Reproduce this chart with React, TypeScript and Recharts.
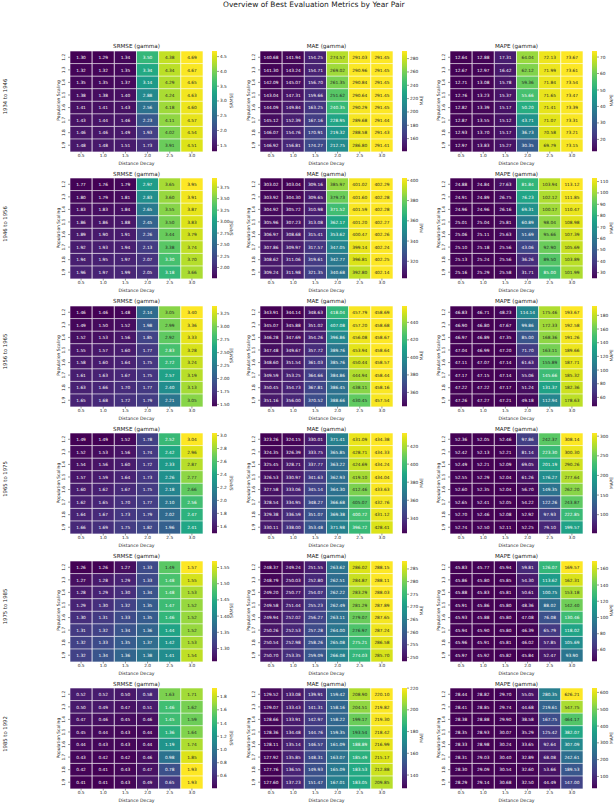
import React from 'react';
import { BarChart, Bar, XAxis, YAxis, Cell, LabelList } from 'recharts';

const FONT = 'DejaVu Sans, sans-serif';

const mainTitle = 'Overview of Best Evaluation Metrics by Year Pair';
const yearPairs = ['1934 to 1946', '1946 to 1956', '1956 to 1965', '1965 to 1975', '1975 to 1985', '1985 to 1992'];
const popScaling = ['1.2', '1.3', '1.4', '1.5', '1.6', '1.7', '1.8', '1.9'];
const distDecay = ['0.5', '1.0', '1.5', '2.0', '2.5', '3.0'];
const metricTitles = ['SRMSE (gamma)', 'MAE (gamma)', 'MAPE (gamma)'];
const metricLabels = ['SRMSE', 'MAE', 'MAPE'];

// ---- 1934 to 1946 ----
const srmse1934 = [
  [1.30, 1.29, 1.34, 3.50, 4.38, 4.69],
  [1.32, 1.32, 1.35, 3.34, 4.34, 4.67],
  [1.35, 1.35, 1.37, 3.14, 4.29, 4.65],
  [1.38, 1.38, 1.40, 2.88, 4.24, 4.63],
  [1.41, 1.41, 1.43, 2.56, 4.18, 4.60],
  [1.43, 1.44, 1.46, 2.23, 4.11, 4.57],
  [1.46, 1.46, 1.49, 1.93, 4.02, 4.54],
  [1.48, 1.48, 1.51, 1.73, 3.91, 4.51],
];
const mae1934 = [
  [140.68, 141.94, 154.25, 274.57, 291.03, 291.45],
  [141.30, 143.24, 154.71, 269.02, 290.96, 291.45],
  [142.09, 145.07, 156.70, 261.35, 290.84, 291.45],
  [143.04, 147.31, 159.66, 251.62, 290.64, 291.45],
  [144.09, 149.84, 163.25, 240.35, 290.29, 291.45],
  [145.12, 152.39, 167.16, 228.95, 289.68, 291.44],
  [146.07, 154.76, 170.91, 219.32, 288.58, 291.43],
  [146.92, 156.81, 174.27, 212.75, 286.80, 291.41],
];
const mape1934 = [
  [12.64, 12.88, 17.31, 64.04, 72.13, 73.67],
  [12.67, 12.97, 16.42, 62.12, 71.99, 73.61],
  [12.71, 13.08, 15.78, 59.36, 71.84, 73.54],
  [12.76, 13.23, 15.37, 55.66, 71.65, 73.47],
  [12.82, 13.39, 15.17, 50.20, 71.41, 73.39],
  [12.87, 13.55, 15.12, 43.71, 71.07, 73.31],
  [12.93, 13.70, 15.17, 36.73, 70.58, 73.21],
  [12.97, 13.83, 15.27, 30.35, 69.79, 73.15],
];
// ---- 1946 to 1956 ----
const srmse1946 = [
  [1.77, 1.76, 1.79, 2.97, 3.65, 3.95],
  [1.80, 1.79, 1.81, 2.83, 3.60, 3.91],
  [1.83, 1.83, 1.84, 2.65, 3.55, 3.87],
  [1.86, 1.86, 1.88, 2.45, 3.50, 3.83],
  [1.89, 1.90, 1.91, 2.26, 3.44, 3.79],
  [1.92, 1.93, 1.94, 2.13, 3.38, 3.74],
  [1.94, 1.95, 1.97, 2.07, 3.30, 3.70],
  [1.96, 1.97, 1.99, 2.05, 3.18, 3.66],
];
const mae1946 = [
  [303.02, 303.04, 309.16, 385.97, 401.02, 402.29],
  [303.92, 304.30, 309.65, 379.73, 401.60, 402.28],
  [304.92, 305.72, 310.98, 371.52, 401.59, 402.28],
  [305.96, 307.23, 313.08, 362.17, 401.20, 402.27],
  [306.97, 308.68, 315.41, 353.62, 400.47, 402.26],
  [307.86, 309.97, 317.57, 347.05, 399.14, 402.24],
  [308.62, 311.06, 319.61, 342.77, 396.81, 402.25],
  [309.24, 311.98, 321.35, 340.68, 392.80, 402.14],
];
const mape1946 = [
  [24.88, 24.84, 27.63, 81.84, 103.94, 113.12],
  [24.91, 24.89, 26.75, 76.23, 102.12, 111.85],
  [24.96, 24.96, 26.16, 69.31, 100.17, 110.47],
  [25.01, 25.04, 25.81, 60.89, 98.04, 108.98],
  [25.06, 25.11, 25.63, 51.69, 95.66, 107.39],
  [25.10, 25.18, 25.56, 43.06, 92.90, 105.69],
  [25.13, 25.24, 25.56, 36.26, 89.50, 103.89],
  [25.16, 25.29, 25.58, 31.71, 85.00, 101.99],
];
// ---- 1956 to 1965 ----
const srmse1956 = [
  [1.46, 1.46, 1.48, 2.14, 3.05, 3.40],
  [1.49, 1.50, 1.52, 1.98, 2.99, 3.36],
  [1.52, 1.53, 1.56, 1.85, 2.92, 3.33],
  [1.55, 1.57, 1.60, 1.77, 2.83, 3.28],
  [1.58, 1.60, 1.64, 1.75, 2.72, 3.24],
  [1.61, 1.63, 1.67, 1.75, 2.57, 3.19],
  [1.63, 1.66, 1.70, 1.77, 2.40, 3.13],
  [1.65, 1.68, 1.72, 1.79, 2.21, 3.05],
];
const mae1956 = [
  [343.91, 344.14, 348.63, 418.04, 457.79, 458.69],
  [345.07, 345.88, 351.02, 407.08, 457.20, 458.68],
  [346.28, 347.69, 354.26, 396.86, 456.08, 458.67],
  [347.48, 349.67, 357.72, 389.76, 453.94, 458.64],
  [348.60, 351.54, 361.03, 385.76, 450.44, 458.57],
  [349.59, 353.25, 364.66, 384.86, 444.94, 458.44],
  [350.45, 354.73, 367.81, 386.45, 438.11, 458.16],
  [351.16, 356.00, 370.52, 388.66, 430.45, 457.54],
];
const mape1956 = [
  [46.83, 46.71, 48.23, 114.14, 175.46, 193.67],
  [46.90, 46.80, 47.67, 99.86, 172.33, 192.58],
  [46.97, 46.89, 47.35, 85.00, 168.36, 191.26],
  [47.04, 46.99, 47.20, 71.70, 163.11, 189.66],
  [47.11, 47.07, 47.14, 61.63, 155.89, 187.71],
  [47.17, 47.15, 47.14, 55.06, 145.66, 185.32],
  [47.22, 47.22, 47.17, 51.24, 131.37, 182.36],
  [47.26, 47.27, 47.21, 49.18, 112.94, 178.63],
];
// ---- 1965 to 1975 ----
const srmse1965 = [
  [1.49, 1.49, 1.52, 1.78, 2.52, 3.04],
  [1.52, 1.53, 1.56, 1.74, 2.42, 2.96],
  [1.54, 1.56, 1.60, 1.72, 2.33, 2.87],
  [1.57, 1.59, 1.64, 1.73, 2.26, 2.77],
  [1.60, 1.62, 1.67, 1.75, 2.18, 2.66],
  [1.62, 1.65, 1.70, 1.77, 2.10, 2.56],
  [1.64, 1.67, 1.73, 1.79, 2.02, 2.47],
  [1.66, 1.69, 1.75, 1.82, 1.96, 2.41],
];
const mae1965 = [
  [323.26, 324.15, 330.01, 371.41, 431.09, 434.38],
  [324.35, 326.39, 333.75, 365.85, 428.71, 434.33],
  [325.45, 328.71, 337.77, 363.22, 424.69, 434.24],
  [326.53, 330.97, 341.63, 362.93, 419.10, 434.04],
  [327.58, 333.06, 345.14, 364.30, 412.46, 433.63],
  [328.54, 334.95, 348.27, 366.68, 405.07, 432.76],
  [329.38, 336.59, 351.07, 369.38, 400.72, 431.12],
  [330.11, 338.00, 353.48, 371.98, 396.72, 428.41],
];
const mape1965 = [
  [52.36, 52.05, 52.46, 97.86, 242.37, 308.14],
  [52.42, 52.13, 52.21, 81.14, 223.30, 300.30],
  [52.49, 52.21, 52.09, 69.05, 201.19, 290.26],
  [52.55, 52.29, 52.04, 61.26, 176.27, 277.64],
  [52.60, 52.35, 52.04, 56.70, 149.35, 262.20],
  [52.65, 52.41, 52.05, 54.22, 122.26, 243.87],
  [52.70, 52.46, 52.08, 52.92, 97.93, 222.85],
  [52.74, 52.50, 52.11, 52.25, 79.10, 199.57],
];
// ---- 1975 to 1985 ----
const srmse1975 = [
  [1.26, 1.26, 1.27, 1.33, 1.49, 1.57],
  [1.27, 1.28, 1.29, 1.33, 1.48, 1.55],
  [1.28, 1.29, 1.30, 1.34, 1.48, 1.53],
  [1.29, 1.30, 1.32, 1.35, 1.47, 1.52],
  [1.30, 1.31, 1.33, 1.35, 1.46, 1.52],
  [1.31, 1.32, 1.34, 1.36, 1.44, 1.52],
  [1.32, 1.33, 1.35, 1.37, 1.42, 1.53],
  [1.32, 1.34, 1.36, 1.38, 1.41, 1.54],
];
const mae1975 = [
  [248.37, 249.24, 251.55, 263.62, 286.02, 288.15],
  [248.79, 250.03, 252.80, 262.51, 284.87, 288.11],
  [249.20, 250.77, 254.07, 262.22, 283.29, 288.03],
  [249.58, 251.44, 255.23, 262.49, 281.29, 287.89],
  [249.94, 252.02, 256.27, 263.11, 279.07, 287.65],
  [250.26, 252.53, 257.28, 264.00, 276.97, 287.24],
  [250.54, 252.98, 258.26, 265.08, 275.21, 286.58],
  [250.70, 253.35, 259.09, 266.08, 274.03, 285.70],
];
const mape1975 = [
  [45.83, 45.77, 45.94, 59.81, 126.07, 169.57],
  [45.86, 45.80, 45.85, 54.30, 113.62, 162.31],
  [45.88, 45.83, 45.81, 50.61, 100.75, 153.18],
  [45.91, 45.86, 45.80, 48.36, 88.02, 142.40],
  [45.93, 45.88, 45.80, 47.08, 76.08, 130.46],
  [45.94, 45.90, 45.80, 46.39, 65.79, 118.02],
  [45.96, 45.91, 45.81, 46.02, 57.85, 105.69],
  [45.97, 45.92, 45.82, 45.84, 52.47, 93.90],
];
// ---- 1985 to 1992 ----
const srmse1985 = [
  [0.52, 0.52, 0.50, 0.58, 1.63, 1.71],
  [0.50, 0.49, 0.47, 0.51, 1.46, 1.62],
  [0.47, 0.46, 0.45, 0.46, 1.45, 1.59],
  [0.45, 0.44, 0.43, 0.44, 1.36, 1.64],
  [0.44, 0.43, 0.43, 0.44, 1.19, 1.74],
  [0.43, 0.42, 0.42, 0.46, 0.98, 1.85],
  [0.42, 0.41, 0.43, 0.47, 0.78, 1.93],
  [0.41, 0.41, 0.43, 0.49, 0.65, 1.93],
];
const mae1985 = [
  [129.52, 133.08, 139.91, 159.42, 208.90, 220.10],
  [129.07, 133.43, 141.31, 158.16, 204.51, 219.82],
  [128.66, 133.91, 142.97, 158.22, 199.17, 219.30],
  [128.36, 134.48, 144.76, 159.35, 193.54, 218.42],
  [128.11, 135.14, 146.57, 161.09, 188.89, 216.99],
  [127.92, 135.85, 148.31, 163.07, 185.49, 215.17],
  [127.76, 136.55, 149.93, 165.09, 183.53, 212.88],
  [127.60, 137.23, 151.47, 167.01, 183.05, 209.85],
];
const mape1985 = [
  [28.44, 28.82, 29.70, 55.05, 280.35, 626.21],
  [28.41, 28.85, 29.74, 44.68, 219.61, 547.75],
  [28.38, 28.88, 29.90, 38.58, 167.75, 464.17],
  [28.35, 28.93, 30.07, 35.29, 125.42, 382.07],
  [28.33, 28.98, 30.24, 33.65, 92.64, 307.09],
  [28.31, 29.03, 30.40, 32.89, 68.08, 242.61],
  [28.30, 29.09, 30.54, 32.60, 53.66, 189.53],
  [28.29, 29.14, 30.68, 32.50, 44.49, 147.00],
];

// colorbar ticks per row: [srmse, mae, mape]
const cbTicks1934 = [[1.5, 2.0, 2.5, 3.0, 3.5, 4.0, 4.5], [160, 180, 200, 220, 240, 260, 280], [20, 30, 40, 50, 60, 70]];
const cbTicks1946 = [[2.0, 2.25, 2.5, 2.75, 3.0, 3.25, 3.5, 3.75], [320, 340, 360, 380, 400], [30, 40, 50, 60, 70, 80, 90, 100, 110]];
const cbTicks1956 = [[1.5, 1.75, 2.0, 2.25, 2.5, 2.75, 3.0, 3.25], [360, 380, 400, 420, 440], [60, 80, 100, 120, 140, 160, 180]];
const cbTicks1965 = [[1.6, 1.8, 2.0, 2.2, 2.4, 2.6, 2.8, 3.0], [340, 360, 380, 400, 420], [100, 150, 200, 250, 300]];
const cbTicks1975 = [[1.3, 1.35, 1.4, 1.45, 1.5, 1.55], [250, 255, 260, 265, 270, 275, 280, 285], [60, 80, 100, 120, 140, 160]];
const cbTicks1985 = [[0.6, 0.8, 1.0, 1.2, 1.4, 1.6, 1.8], [140, 160, 180, 200, 220], [100, 200, 300, 400, 500, 600]];
const srmseTickDecimals = [1, 2, 2, 1, 2, 1];

const panels = [
  [srmse1934, mae1934, mape1934],
  [srmse1946, mae1946, mape1946],
  [srmse1956, mae1956, mape1956],
  [srmse1965, mae1965, mape1965],
  [srmse1975, mae1975, mape1975],
  [srmse1985, mae1985, mape1985],
];
const cbTicks = [cbTicks1934, cbTicks1946, cbTicks1956, cbTicks1965, cbTicks1975, cbTicks1985];

const VIRIDIS = ['#440154', '#481668', '#482475', '#453781', '#414487', '#3b528b', '#355f8d', '#2f6c8e', '#2a788e', '#25858e', '#21918c', '#1e9c89', '#22a884', '#35b779', '#44bf70', '#5ec962', '#7ad151', '#9fda3a', '#bddf26', '#dfe318', '#fde725'];

function hexRgb(h: string) {
  return [parseInt(h.slice(1, 3), 16), parseInt(h.slice(3, 5), 16), parseInt(h.slice(5, 7), 16)];
}
function viridisRgb(t: number) {
  const c = Math.max(0, Math.min(1, t)) * (VIRIDIS.length - 1);
  const i = Math.min(VIRIDIS.length - 2, Math.floor(c));
  const f = c - i;
  const a = hexRgb(VIRIDIS[i]);
  const b = hexRgb(VIRIDIS[i + 1]);
  return [0, 1, 2].map((k) => a[k] + (b[k] - a[k]) * f);
}
function rgbStr(c: number[]) {
  return `rgb(${Math.round(c[0])},${Math.round(c[1])},${Math.round(c[2])})`;
}
function textColor(c: number[]) {
  const lin = c.map((v) => {
    const s = v / 255;
    return s <= 0.03928 ? s / 12.92 : Math.pow((s + 0.055) / 1.055, 2.4);
  });
  const lum = 0.2126 * lin[0] + 0.7152 * lin[1] + 0.0722 * lin[2];
  return lum > 0.408 ? '#262626' : '#ffffff';
}

const PLOT_W = 133;
const PLOT_H = 100.5;
const COL_LEFT = [70, 260, 450];
const rowTop = (r: number) => 50.5 + 127.5 * r;

function Heatmap({ values, left, top }: { values: number[][]; left: number; top: number }) {
  const flat = values.flat();
  const min = Math.min(...flat);
  const max = Math.max(...flat);
  const data = popScaling.map((ps, i) => {
    const row: any = { ps };
    distDecay.forEach((_, j) => {
      row['c' + j] = 1;
      row['v' + j] = values[i][j];
    });
    return row;
  });
  const YW = 12, XH = 14, MT = 1, MR = 1;
  const XTick = (p: any) => (
    <text x={p.x} y={p.y + 3.6} textAnchor="middle" fontSize={4.3} fill="#222" fontFamily={FONT}>
      {distDecay[Math.floor(p.payload.value)]}
    </text>
  );
  const YTick = (p: any) => (
    <text x={0} y={0} transform={`translate(${p.x - 4.3},${p.y}) rotate(-90)`} textAnchor="middle" dominantBaseline="central" fontSize={4.3} fill="#222" fontFamily={FONT}>
      {p.payload.value}
    </text>
  );
  return (
    <div style={{ position: 'absolute', left: left - YW, top: top - MT }}>
      <BarChart width={YW + PLOT_W + MR} height={MT + PLOT_H + XH} data={data} layout="vertical" margin={{ top: MT, right: MR, left: 0, bottom: 0 }} barCategoryGap={0} barGap={0}>
        <XAxis type="number" domain={[0, 6]} allowDataOverflow ticks={[0.5, 1.5, 2.5, 3.5, 4.5, 5.5]} interval={0} height={XH} axisLine={false} tickSize={2} tickMargin={0} tickLine={{ stroke: '#333', strokeWidth: 0.5 }} tick={XTick} />
        <YAxis type="category" dataKey="ps" width={YW} axisLine={false} tickSize={2} tickMargin={0} interval={0} tickLine={{ stroke: '#333', strokeWidth: 0.5 }} tick={YTick} />
        {distDecay.map((_, j) => (
          <Bar key={j} dataKey={'c' + j} stackId="s" isAnimationActive={false} stroke="#ffffff" strokeWidth={0.6}>
            {data.map((d: any, i: number) => (
              <Cell key={i} fill={rgbStr(viridisRgb((d['v' + j] - min) / (max - min)))} />
            ))}
            <LabelList
              dataKey={'v' + j}
              content={(p: any) => {
                const vb = p.viewBox || {};
                const x = p.x ?? vb.x;
                const y = p.y ?? vb.y;
                const w = p.width ?? vb.width;
                const h = p.height ?? vb.height;
                const v = Number(p.value);
                const col = textColor(viridisRgb((v - min) / (max - min)));
                return (
                  <text x={x + w / 2} y={y + h / 2} textAnchor="middle" dominantBaseline="central" fontSize={4.3} fill={col} fontFamily={FONT}>
                    {v.toFixed(2)}
                  </text>
                );
              }}
            />
          </Bar>
        ))}
      </BarChart>
    </div>
  );
}

function Colorbar({ values, ticks, decimals, left, top }: { values: number[][]; ticks: number[]; decimals: number; left: number; top: number }) {
  const flat = values.flat();
  const min = Math.min(...flat);
  const max = Math.max(...flat);
  const data = [{ k: 'cb', r: [min, max] }];
  const CW = 5, RW = 24, MT = 3, MB = 3;
  return (
    <div style={{ position: 'absolute', left, top: top - MT }}>
      <BarChart width={CW + RW} height={PLOT_H + MT + MB} data={data} margin={{ top: MT, right: 0, bottom: MB, left: 0 }} barCategoryGap={0}>
        <XAxis dataKey="k" type="category" hide />
        <YAxis
          type="number"
          orientation="right"
          domain={[min, max]}
          allowDataOverflow
          ticks={ticks}
          interval={0}
          width={RW}
          axisLine={false}
          tickSize={2}
          tickMargin={1}
          tickLine={{ stroke: '#333', strokeWidth: 0.5 }}
          tick={{ fontSize: 4.3, fill: '#222', fontFamily: FONT }}
          tickFormatter={(v: number) => v.toFixed(decimals)}
        />
        <Bar dataKey="r" fill="url(#viridisGrad)" isAnimationActive={false} />
      </BarChart>
    </div>
  );
}

export default function App() {
  const texts: React.ReactNode[] = [];
  yearPairs.forEach((yp, r) => {
    const top = rowTop(r);
    texts.push(
      <text key={'yp' + r} x={0} y={0} transform={`translate(4.6,${top + 46}) rotate(-90)`} textAnchor="middle" dominantBaseline="central" fontSize={5.3} fill="#222" fontWeight={400}>
        {yp}
      </text>
    );
    COL_LEFT.forEach((left, c) => {
      texts.push(
        <text key={`t${r}${c}`} x={left + PLOT_W / 2} y={top - 4.5} textAnchor="middle" dominantBaseline="central" fontSize={5.6} fill="#222" fontWeight={400}>
          {metricTitles[c]}
        </text>,
        <text key={`ps${r}${c}`} x={0} y={0} transform={`translate(${left - 12},${top + 50}) rotate(-90)`} textAnchor="middle" dominantBaseline="central" fontSize={4.4} fill="#222" fontWeight={400}>
          Population Scaling
        </text>,
        <text key={`dd${r}${c}`} x={left + PLOT_W / 2} y={top + PLOT_H + 12} textAnchor="middle" dominantBaseline="central" fontSize={4.6} fill="#222" fontWeight={400}>
          Distance Decay
        </text>,
        <text key={`cl${r}${c}`} x={0} y={0} transform={`translate(${left + 142 + 19.5},${top + 50}) rotate(-90)`} textAnchor="middle" dominantBaseline="central" fontSize={4.4} fill="#222" fontWeight={400}>
          {metricLabels[c]}
        </text>
      );
    });
  });

  return (
    <div style={{ position: 'absolute', left: 0, top: 0, width: 616, height: 804, background: '#ffffff', fontFamily: FONT, overflow: 'hidden' }}>
      <svg width={0} height={0} style={{ position: 'absolute' }}>
        <defs>
          <linearGradient id="viridisGrad" x1="0" y1="1" x2="0" y2="0">
            {VIRIDIS.map((c, i) => (
              <stop key={i} offset={i / (VIRIDIS.length - 1)} stopColor={c} />
            ))}
          </linearGradient>
        </defs>
      </svg>
      {panels.map((row, r) =>
        row.map((vals, c) => (
          <React.Fragment key={`p${r}${c}`}>
            <Heatmap values={vals} left={COL_LEFT[c]} top={rowTop(r)} />
            <Colorbar values={vals} ticks={cbTicks[r][c]} decimals={c === 0 ? srmseTickDecimals[r] : 0} left={COL_LEFT[c] + 142} top={rowTop(r)} />
          </React.Fragment>
        ))
      )}
      <svg width={616} height={804} style={{ position: 'absolute', left: 0, top: 0, pointerEvents: 'none' }} fontFamily={FONT}>
        <text x={223} y={6.8} fontSize={7.5} fill="#222" fontWeight={400}>
          {mainTitle}
        </text>
        {texts}
      </svg>
    </div>
  );
}
